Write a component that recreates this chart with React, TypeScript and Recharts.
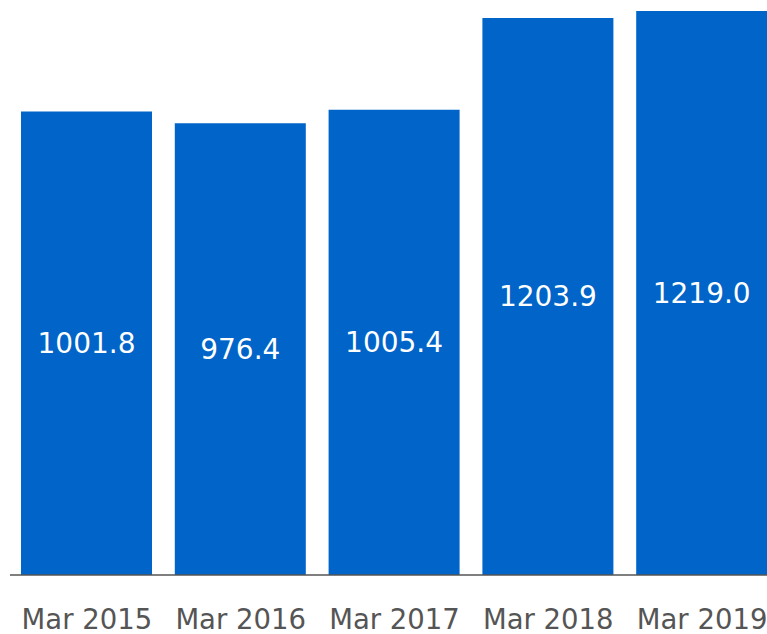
import { BarChart, Bar, XAxis, YAxis, LabelList } from "recharts";

// ── Yearly values ─────────────────────────────────────────────

const PERIODS = ["Mar 2015", "Mar 2016", "Mar 2017", "Mar 2018", "Mar 2019"];
const VALUES = [1001.8, 976.4, 1005.4, 1203.9, 1219.0];

const BAR_COLOR = "#0064c8";
const TEXT_COLOR = "#555555";
const FONT = "'DejaVu Sans', Verdana, sans-serif";

const data = PERIODS.map((period, i) => ({ period, value: VALUES[i] }));

export default function App() {
  return (
    <div
      style={{
        position: "fixed",
        left: 0,
        top: 0,
        width: 767,
        height: 634,
        overflow: "hidden",
        background: "#fff",
      }}
    >
      <BarChart
        width={779}
        height={634}
        data={data}
        margin={{ top: 11, right: 0, left: 10, bottom: 0 }}
        barSize={131}
      >
        <XAxis
          dataKey="period"
          height={59}
          tickLine={false}
          tickSize={0}
          tickMargin={34}
          axisLine={{ stroke: TEXT_COLOR, strokeWidth: 1.5 }}
          tick={{ fontSize: 27.5, fill: TEXT_COLOR, fontFamily: FONT }}
          interval={0}
        />
        <YAxis hide domain={[0, "dataMax"]} />
        <Bar dataKey="value" fill={BAR_COLOR} isAnimationActive={false}>
          <LabelList
            dataKey="value"
            position="center"
            formatter={(v: any) => Number(v).toFixed(1)}
            style={{ fontSize: 28, fill: "#ffffff", fontFamily: FONT }}
          />
        </Bar>
      </BarChart>
    </div>
  );
}
